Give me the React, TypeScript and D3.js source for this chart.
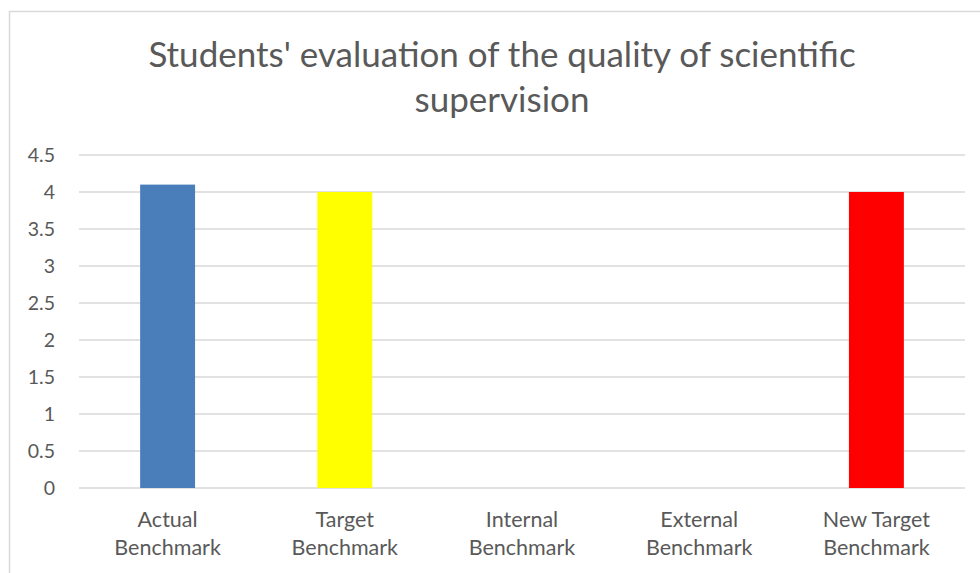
import React from 'react';
import * as d3 from 'd3';

const categories = [
  ['Actual', 'Benchmark'],
  ['Target', 'Benchmark'],
  ['Internal', 'Benchmark'],
  ['External', 'Benchmark'],
  ['New Target', 'Benchmark'],
];
const values = [4.1, 4, null, null, 4];
const barColors = ['#4a7ebb', '#ffff00', '#ffffff', '#ffffff', '#ff0000'];
const yTicks = [0, 0.5, 1, 1.5, 2, 2.5, 3, 3.5, 4, 4.5];
const titleLines = ["Students' evaluation of the quality of scientific", 'supervision'];

export default function App() {
  const W = 980;
  const H = 573;
  const left = 79;
  const right = 965;
  const top = 155;
  const bottom = 488;

  const keys = categories.map(c => c.join(' '));
  const x = d3.scaleBand<string>().domain(keys).range([left, right]).paddingInner(0.69).paddingOuter(0.345);
  const y = d3.scaleLinear().domain([0, 4.5]).range([bottom, top]);
  const font = 'Lato, "Open Sans", sans-serif';

  return (
    <svg width={W} height={H} style={{ position: 'absolute', left: 0, top: 0, background: '#fff' }}>
      <rect x={9.5} y={11.5} width={W + 20} height={H + 20} fill="#fff" stroke="#d9d9d9" strokeWidth={1.5} />
      {titleLines.map((t, i) => (
        <text key={i} x={502} y={67 + i * 45} textAnchor="middle" fontFamily={font} fontSize={35} fill="#595959">{t}</text>
      ))}
      {yTicks.map(t => (
        <g key={t}>
          <line x1={left} x2={right} y1={y(t)} y2={y(t)} stroke="#d9d9d9" strokeWidth={1.5} />
          <text x={55} y={y(t) + 7} textAnchor="end" fontFamily={font} fontSize={19.5} fill="#595959">{t}</text>
        </g>
      ))}
      {keys.map((k, i) => values[i] == null ? null : (
        <rect key={k} x={x(k)} y={y(values[i] as number)} width={x.bandwidth()} height={bottom - y(values[i] as number)} fill={barColors[i]} />
      ))}
      {categories.map((c, i) => (
        <text key={i} textAnchor="middle" fontFamily={font} fontSize={21.5} fill="#595959">
          {c.map((l, j) => (
            <tspan key={j} x={(x(keys[i]) as number) + x.bandwidth() / 2} y={527 + j * 28}>{l}</tspan>
          ))}
        </text>
      ))}
    </svg>
  );
}
